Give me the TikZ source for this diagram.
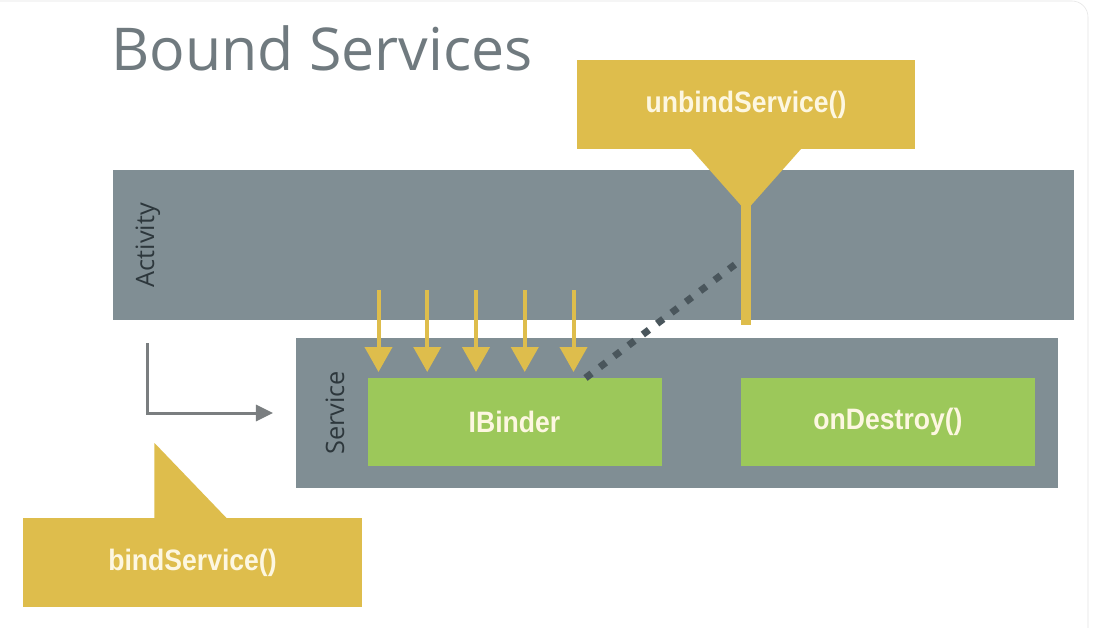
\documentclass[tikz,border=0pt]{standalone}
\usepackage{fontspec}
\setmainfont{Open Sans}
\newfontfamily\labelfont[FakeStretch=0.9]{Liberation Sans}
\usetikzlibrary{arrows.meta,calc}

\definecolor{bandgray}{RGB}{128,142,148}
\definecolor{bindgreen}{RGB}{156,200,90}
\definecolor{callyellow}{RGB}{222,189,76}
\definecolor{calltext}{RGB}{253,247,225}
\definecolor{darktext}{RGB}{45,55,60}
\definecolor{dotgray}{RGB}{74,86,92}
\definecolor{titlegray}{RGB}{112,122,127}
\definecolor{flowgray}{RGB}{122,126,128}

\begin{document}
\begin{tikzpicture}[x=0.25mm, y=-0.25mm,
    band/.style={fill=bandgray, inner sep=0pt, outer sep=0pt},
    greenbox/.style={fill=bindgreen, text=calltext, inner sep=0pt, outer sep=0pt,
        minimum width=73.5mm, minimum height=22mm,
        font=\labelfont\bfseries\fontsize{21}{25}\selectfont},
    callbox/.style={fill=callyellow, text=calltext, inner sep=0pt, outer sep=0pt,
        minimum width=84.5mm, minimum height=22.25mm,
        font=\labelfont\bfseries\fontsize{21}{25}\selectfont},
    sidelabel/.style={rotate=90, text=darktext, font=\fontsize{18}{21}\selectfont},
    callarrow/.style={callyellow, line width=1mm, -{Triangle[width=6.75mm,length=6.25mm]}}]
        % Card and bounding box
        \useasboundingbox (0,0) rectangle (1094,628);
        \fill[white] (0,0) rectangle (1094,628);
        \draw[black!10, rounded corners=4mm] (-30,1) rectangle (1088,660);

        % Title
        \node[anchor=base west, text=titlegray, inner sep=0pt, font=\fontsize{42}{50}\selectfont] (title) at (111,70) {Bound Services};

        % Activity band and Service band
        \node[band, minimum width=240.25mm, minimum height=37.5mm] (activity) at (593.5,245) {};
        \node[sidelabel] (activitylbl) at (148,245) {Activity};
        \node[band, minimum width=190.5mm, minimum height=37.5mm] (service) at (677,413) {};
        \node[sidelabel] (servicelbl) at (335,413) {Service};

        % Boxes inside the service
        \node[greenbox] (ibinder) at (514.5,422) {IBinder};
        \node[greenbox] (ondestroy) at (888,422) {onDestroy()};

        % unbindService() callout
        \node[callbox] (unbind) at (746,104.5) {unbindService()};
        \coordinate (stemtop) at ($(unbind.south)+(0,56)$);
        \coordinate (stemend) at (746,325);
        \coordinate (unbindpt) at (741,260);

        % Dotted line from the binder to the unbind stem
        \draw[dotgray, line width=1.75mm, dash pattern=on 1.9mm off 2.6mm] ($(ibinder.north west)+(218,0)$) -- (unbindpt);

        \fill[callyellow] ($(unbind.south)+(-55,0)$) -- ($(unbind.south)+(55,0)$) -- ($(unbind.south)+(0,62)$) -- cycle;
        \draw[callyellow, line width=2.5mm] (stemtop) -- (stemend);

        % Calls from the activity to the binder
        \foreach \i in {0,...,4}
            \draw[callarrow] ($(ibinder.north west)+(11+48.75*\i,-88)$) -- ($(ibinder.north west)+(11+48.75*\i,-6)$);

        % bindService() callout
        \node[callbox] (bind) at (192.5,562.5) {bindService()};
        \fill[callyellow] ($(bind.north west)+(131,0)$) -- ($(bind.north west)+(131,-75)$) -- ($(bind.north west)+(203,0)$) -- cycle;

        % Flow into the service
        \coordinate (flowstart) at (147,343);
        \draw[flowgray, line width=0.75mm, -{Triangle[width=4mm,length=4.25mm]}, shorten >=23*0.25mm] (flowstart) |- (service.west);
    \end{tikzpicture}
\end{document}
